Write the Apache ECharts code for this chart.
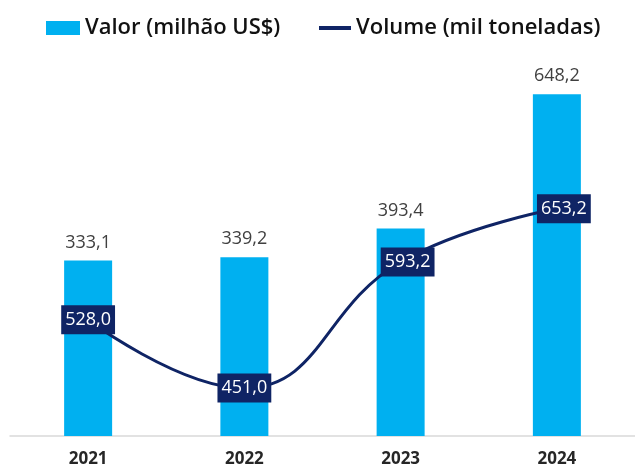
<!DOCTYPE html>
<html>
<head>
<meta charset="utf-8">
<script src="https://cdn.jsdelivr.net/npm/echarts@6/dist/echarts.min.js"></script>
<style>
  html, body { margin: 0; padding: 0; background: #fff; }
  #chart { width: 635px; height: 470px; }
</style>
</head>
<body>
<div id="chart"></div>
<script>
// dados do gráfico
var anos = ['2021', '2022', '2023', '2024'];
var valor = [333.1, 339.2, 393.4, 648.2];     // milhão US$
var volume = [528.0, 451.0, 593.2, 653.2];    // mil toneladas

var nomeValor = 'Valor (milhão US$)';
var nomeVolume = 'Volume (mil toneladas)';

function fmt(v) {
    return v.toFixed(1).replace('.', ',');
}

var chart = echarts.init(document.getElementById('chart'));
var fonte = '"Open Sans", "Noto Sans", sans-serif';
var azulEscuro = '#0f2465';
var legendaTexto = { fontSize: 22, fontWeight: 600, color: '#111', fontFamily: fonte };

chart.setOption({
    animation: false,
    textStyle: { fontFamily: fonte },
    legend: [
        {
            top: 12,
            left: 41,
            itemWidth: 34,
            itemHeight: 14,
            textStyle: legendaTexto,
            data: [{ name: nomeValor, icon: 'rect' }]
        },
        {
            top: 12,
            left: 314,
            itemWidth: 32,
            itemHeight: 4,
            textStyle: legendaTexto,
            data: [{ name: nomeVolume, icon: 'rect', itemStyle: { color: azulEscuro } }]
        }
    ],
    grid: { left: 10, right: 0, top: 67, bottom: 34 },
    xAxis: {
        type: 'category',
        data: anos,
        axisTick: { show: false },
        axisLine: { lineStyle: { color: '#d9d9d9', width: 1.5 } },
        axisLabel: { fontSize: 17, fontWeight: 'bold', color: '#262626', margin: 15 }
    },
    yAxis: [
        { type: 'value', min: 0, max: 700, show: false, splitLine: { show: false } },
        { type: 'value', min: 397, max: 813, show: false, splitLine: { show: false } }
    ],
    series: [
        {
            name: nomeValor,
            type: 'bar',
            data: valor,
            barWidth: 48,
            itemStyle: { color: '#00b0f0' },
            label: {
                show: true,
                position: 'top',
                distance: 9,
                fontSize: 18,
                color: '#404040',
                formatter: function (p) { return fmt(p.value); }
            }
        },
        {
            name: nomeVolume,
            type: 'line',
            yAxisIndex: 1,
            data: volume.map(function (v, i) {
                // nos dois últimos anos o rótulo fica um pouco à direita
                return i >= 2 ? { value: v, label: { offset: [7, 0] } } : v;
            }),
            smooth: 0.45,
            symbol: 'circle',
            symbolSize: 1,
            showSymbol: true,
            lineStyle: { color: azulEscuro, width: 3 },
            itemStyle: { color: azulEscuro },
            label: {
                show: true,
                position: 'inside',
                fontSize: 18,
                color: '#ffffff',
                backgroundColor: azulEscuro,
                padding: [6, 4, 5, 4],
                formatter: function (p) { return fmt(p.value); }
            },
            z: 5
        }
    ]
});
</script>
</body>
</html>
